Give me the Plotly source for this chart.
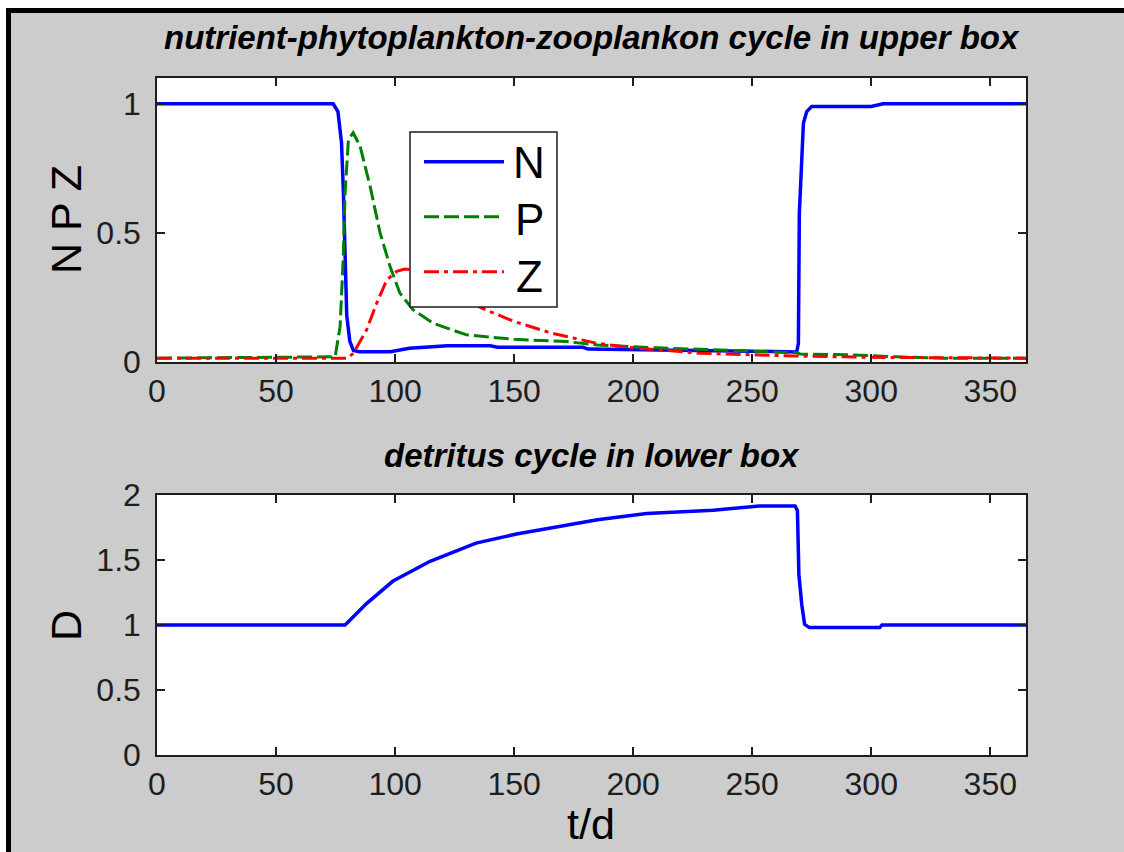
import plotly.graph_objects as go

# ---------------- data ----------------
t_N = [0, 74, 76, 77.5, 78.3, 79, 79.7, 81, 82.5, 85, 98, 106, 122, 140, 143, 179, 181,
       249, 268.7, 269.4, 269.8, 270.8, 271.5, 272.9, 275, 300, 305, 365]
N = [1.0, 1.0, 0.97, 0.85, 0.655, 0.40, 0.18, 0.08, 0.045, 0.04, 0.04, 0.053, 0.063, 0.063,
     0.057, 0.057, 0.05, 0.042, 0.039, 0.072, 0.576, 0.78, 0.925, 0.97, 0.99, 0.99, 1.0, 1.0]

t_P = [0, 74.8, 76.9, 78.2, 79, 80.4, 82.4, 85.3, 89.5, 93.7, 97.9, 102, 107.6, 116, 130,
       150, 172, 185, 210, 250, 268.6, 270, 290, 311, 330, 365]
P = [0.015, 0.02, 0.137, 0.396, 0.655, 0.862, 0.888, 0.836, 0.681, 0.5, 0.37, 0.267, 0.202,
     0.15, 0.105, 0.088, 0.079, 0.066, 0.055, 0.044, 0.036, 0.031, 0.028, 0.02, 0.015, 0.015]

t_Z = [0, 80, 82.5, 88, 92.3, 96.5, 100.7, 104, 110, 118, 126, 136, 150, 166, 185, 200,
       228, 250, 268, 300, 330, 365]
Z = [0.015, 0.015, 0.034, 0.124, 0.228, 0.318, 0.351, 0.36, 0.355, 0.32, 0.27, 0.21, 0.157,
     0.111, 0.072, 0.055, 0.034, 0.028, 0.023, 0.018, 0.016, 0.015]

t_D = [0, 79, 88, 99, 114.7, 134, 151, 178, 185, 205.7, 233.6, 253, 268, 269.0, 269.6,
       270.8, 272, 274, 303.6, 304.5, 365]
D = [1.0, 1.0, 1.165, 1.336, 1.49, 1.63, 1.70, 1.79, 1.81, 1.857, 1.883, 1.916, 1.916, 1.88,
     1.39, 1.16, 1.005, 0.98, 0.98, 1.0, 1.0]

x_ticks = [0, 50, 100, 150, 200, 250, 300, 350]
y1_ticks = [0, 0.5, 1]
y2_ticks = [0, 0.5, 1, 1.5, 2]
series_names = ["N", "P", "Z"]

# ---------------- layout helpers ----------------
W, H = 1124, 852
def px(x):
    return x / W
def py(y):
    return 1 - y / H

FONT = "Liberation Sans, Arial, sans-serif"
AX = "#1e1e1e"
COLORS = ["#0000ff", "#008000", "#ff0000"]
DASHES = ["solid", "15px,5px", "15px,5px,4px,5px"]
WIDTHS = [3.5, 3, 3]

fig = go.Figure()
for name, tx, vy, col, dsh, lw in zip(series_names, [t_N, t_P, t_Z], [N, P, Z],
                                     COLORS, DASHES, WIDTHS):
    fig.add_trace(go.Scatter(x=tx, y=vy, name=name, mode="lines", showlegend=False,
                             line=dict(color=col, width=lw, dash=dsh), xaxis="x", yaxis="y"))
fig.add_trace(go.Scatter(x=t_D, y=D, name="D", mode="lines", showlegend=False,
                         line=dict(color="#0000ff", width=3.5), xaxis="x2", yaxis="y2"))

axis_common = dict(showline=True, linecolor=AX, linewidth=1.5, mirror="ticks",
                   ticks="inside", ticklen=8, tickwidth=1.5, tickcolor=AX,
                   showgrid=False, zeroline=False, automargin=False,
                   tickfont=dict(family=FONT, size=32, color=AX))

xdom = [px(157), px(1026)]
fig.update_layout(
    width=W, height=H, autosize=False,
    margin=dict(l=0, r=0, t=0, b=0),
    paper_bgcolor="#cccccc", plot_bgcolor="#ffffff",
    showlegend=False, hovermode=False,
    xaxis=dict(domain=xdom, anchor="y", range=[0, 365], tickvals=x_ticks,
               ticklabelstandoff=0, **axis_common),
    yaxis=dict(domain=[py(362), py(78)], anchor="x", range=[0, 1.1], tickvals=y1_ticks,
               ticklabelstandoff=8, **axis_common),
    xaxis2=dict(domain=xdom, anchor="y2", range=[0, 365], tickvals=x_ticks,
                ticklabelstandoff=0, **axis_common),
    yaxis2=dict(domain=[py(755), py(495)], anchor="x2", range=[0, 2], tickvals=y2_ticks,
                ticklabelstandoff=8, **axis_common),
)

# figure frame (white outer strip, black border) + legend box
shapes = [
    dict(type="rect", xref="paper", yref="paper", x0=0, x1=1, y0=py(8), y1=1,
         fillcolor="#ffffff", line=dict(width=0), layer="below"),
    dict(type="rect", xref="paper", yref="paper", x0=0, x1=px(6), y0=0, y1=1,
         fillcolor="#ffffff", line=dict(width=0), layer="below"),
    dict(type="rect", xref="paper", yref="paper", x0=px(6), x1=1, y0=py(13), y1=py(8),
         fillcolor="#000000", line=dict(width=0), layer="below"),
    dict(type="rect", xref="paper", yref="paper", x0=px(6), x1=px(11), y0=0, y1=py(8),
         fillcolor="#000000", line=dict(width=0), layer="below"),
    dict(type="rect", xref="paper", yref="paper", x0=px(410), x1=px(557), y0=py(307), y1=py(132),
         fillcolor="#ffffff", line=dict(color=AX, width=1.5), layer="above"),
]
legend_rows = [161.7, 216.7, 271.7]
for row, col, dsh, lw in zip(legend_rows, COLORS, DASHES, WIDTHS):
    shapes.append(dict(type="line", xref="paper", yref="paper", x0=px(424), x1=px(504),
                       y0=py(row), y1=py(row), line=dict(color=col, width=lw, dash=dsh),
                       layer="above"))
fig.update_layout(shapes=shapes)

title_font = dict(family=FONT, size=33, color="#000000", weight="bold", style="italic")
label_font = dict(family=FONT, size=43, color="#000000")
legend_font = dict(family=FONT, size=44, color="#000000")
annotations = [
    dict(text="nutrient-phytoplankton-zooplankon cycle in upper box", x=px(592), y=py(38),
         xref="paper", yref="paper", showarrow=False, xanchor="center", yanchor="middle",
         font=title_font),
    dict(text="detritus cycle in lower box", x=px(592), y=py(456),
         xref="paper", yref="paper", showarrow=False, xanchor="center", yanchor="middle",
         font=title_font),
    dict(text="N P Z", x=px(66), y=py(220), xref="paper", yref="paper", showarrow=False,
         xanchor="center", yanchor="middle", textangle=-90, font=label_font),
    dict(text="D", x=px(66), y=py(626), xref="paper", yref="paper", showarrow=False,
         xanchor="center", yanchor="middle", textangle=-90, font=label_font),
    dict(text="t/d", x=px(591), y=py(824), xref="paper", yref="paper", showarrow=False,
         xanchor="center", yanchor="middle", font=label_font),
]
for name, yc in zip(series_names, [162.5, 220, 276]):
    annotations.append(dict(text=name, x=px(529), y=py(yc), xref="paper", yref="paper",
                            showarrow=False, xanchor="center", yanchor="middle",
                            font=legend_font))
fig.update_layout(annotations=annotations)

fig.write_html("out.html")
